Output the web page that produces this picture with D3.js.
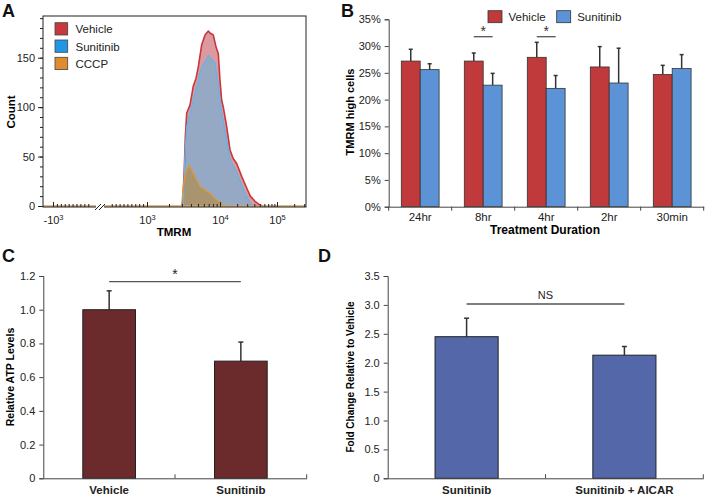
<!DOCTYPE html>
<html><head><meta charset="utf-8">
<script src="https://cdn.jsdelivr.net/npm/d3@7"></script>
<style>body{margin:0;background:#fff;} svg{display:block;font-family:"Liberation Sans",Arial,sans-serif;}</style>
</head><body>
<svg id="c" width="705" height="498"></svg>
<script>
// ---------- Panel A data (TMRM intensity, cell count) ----------
const histSeries = ["Vehicle", "Sunitinib", "CCCP"];
const vehicleHist = [[3080,0],[3250,40],[3350,70],[3500,94],[3880,102],[4300,121],[4690,129],[5050,141],[5610,163],[6240,173],[6920,177],[7290,175],[8090,173],[8810,161],[9480,154],[10000,127],[10700,107],[11430,100],[13120,80],[14960,57],[17000,48],[19600,43],[24000,30],[29500,18],[34000,10],[40700,5],[50000,1],[57000,0]];
const sunitinibHist = [[3140,0],[3300,50],[3500,80],[4300,107],[5050,127],[5400,137],[6240,146],[6920,152],[7300,150],[8090,147],[8600,144],[9480,121],[10710,94],[13120,67],[15160,46],[18300,38],[22400,26],[27500,13],[33600,3],[38400,0]];
const cccpHist = [[2985,0],[3140,20],[3420,35],[3800,41],[4130,36],[4800,26],[5320,20],[6240,16],[7290,13],[8090,9],[9020,6],[10700,2],[13120,0]];
const histXTicks = [-1000, 1000, 10000, 100000];
const histYTicks = [0, 50, 100, 150];

// ---------- Panel B data ----------
const durations = ["24hr", "8hr", "4hr", "2hr", "30min"];
const tmrmSeries = ["Vehicle", "Sunitinib"];
const tmrmVehicle = [0.272, 0.272, 0.279, 0.261, 0.247];
const tmrmVehicleErr = [0.022, 0.015, 0.028, 0.038, 0.017];
const tmrmSunitinib = [0.256, 0.227, 0.221, 0.231, 0.258];
const tmrmSunitinibErr = [0.011, 0.022, 0.024, 0.065, 0.026];
const tmrmSignificant = ["8hr", "4hr"];
const tmrmYTicks = [0, 0.05, 0.10, 0.15, 0.20, 0.25, 0.30, 0.35];

// ---------- Panel C data ----------
const atpGroups = ["Vehicle", "Sunitinib"];
const atpValues = [1.0, 0.695];
const atpErr = [0.112, 0.113];
const atpYTicks = [0, 0.2, 0.4, 0.6, 0.8, 1.0, 1.2];

// ---------- Panel D data ----------
const foldGroups = ["Sunitinib", "Sunitinib + AICAR"];
const foldValues = [2.45, 2.13];
const foldErr = [0.32, 0.15];
const foldYTicks = [0, 0.5, 1.0, 1.5, 2.0, 2.5, 3.0, 3.5];

const svg = d3.select("#c");
const axisCol = "#444";

function panelLabel(t, x, y) {
  svg.append("text").attr("x", x).attr("y", y).attr("font-size", 18).attr("font-weight", "bold").attr("fill", "#111").text(t);
}

// =============== PANEL A ===============
(function () {
  const g = svg.append("g");
  const toU = v => v > 0 ? Math.log10(v) : -Math.log10(-v);
  const L = 43, R = 306, T = 16, B = 207;
  // u-space: -10^3 ... break(0) ... 10^3, 10^4, 10^5
  const xA = d3.scaleLinear().domain([-3, 0, 3, 4, 5]).range([53, 100, 147, 220, 277]);
  const yA = d3.scaleLinear().domain([0, 150]).range([206, 57.7]);

  const area = d3.area().x(d => xA(toU(d[0]))).y0(yA(0)).y1(d => yA(d[1]));
  const line = d3.line().x(d => xA(toU(d[0]))).y(d => yA(d[1]));
  const styles = [
    { data: vehicleHist, fill: "#dc9aa0", stroke: "#c8373d", w: 1.6 },
    { data: sunitinibHist, fill: "#95a9c4", stroke: "#66b3e6", w: 1.3 },
    { data: cccpHist, fill: "#a8956f", stroke: "#e09638", w: 1.3 }
  ];
  styles.forEach(s => {
    g.append("path").datum(s.data).attr("d", area).attr("fill", s.fill);
  });
  styles.forEach(s => {
    g.append("path").datum(s.data).attr("d", line).attr("fill", "none").attr("stroke", s.stroke).attr("stroke-width", s.w).attr("stroke-linejoin", "round");
  });
  // baseline (CCCP outline along zero)
  g.append("line").attr("x1", L).attr("x2", R).attr("y1", yA(0)).attr("y2", yA(0)).attr("stroke", "#d6a258").attr("stroke-width", 1.6);

  // frame
  g.append("rect").attr("x", L).attr("y", T).attr("width", R - L).attr("height", B - T).attr("fill", "none").attr("stroke", "#222").attr("stroke-width", 1);

  // y axis
  const ya = g.append("g").attr("transform", `translate(${L},0)`)
    .call(d3.axisLeft(yA).tickValues(histYTicks).tickSize(5).tickPadding(3));
  ya.select(".domain").remove();
  ya.selectAll("text").attr("font-size", 11).attr("fill", "#222").attr("font-family", null);
  ya.selectAll("line").attr("stroke", "#222");
  const yMinor = g.append("g").attr("transform", `translate(${L},0)`)
    .call(d3.axisLeft(yA).tickValues(d3.range(0, 191, 10)).tickSize(3).tickFormat(""));
  yMinor.select(".domain").remove();
  yMinor.selectAll("line").attr("stroke", "#222");

  // x axis: ticks inside pointing up
  const minorU = [].concat(
    d3.range(-2.75, -0.6, 0.25),
    d3.range(0.75, 2.8, 0.25),
    [3, 4].flatMap(d => d3.range(2, 10).map(k => d + Math.log10(k))),
    [2, 3].map(k => 5 + Math.log10(k))
  );
  const xMinor = g.append("g").attr("transform", `translate(0,${B})`)
    .call(d3.axisBottom(xA).tickValues(minorU).tickSize(-3).tickFormat(""));
  xMinor.select(".domain").remove();
  xMinor.selectAll("line").attr("stroke", "#222");
  const xa = g.append("g").attr("transform", `translate(0,${B})`)
    .call(d3.axisBottom(xA).tickValues(histXTicks.map(toU)).tickSize(-5).tickPadding(9));
  xa.select(".domain").remove();
  xa.selectAll("line").attr("stroke", "#222");
  xa.selectAll(".tick text").attr("font-size", 11).attr("fill", "#222").attr("font-family", null).text(null)
    .each(function (u) {
      const t = d3.select(this);
      t.append("tspan").text(u < 0 ? "-10" : "10");
      t.append("tspan").attr("dy", -4).attr("font-size", 7.5).text(Math.round(Math.abs(u)));
    });

  // axis break
  const bx = xA(0);
  g.append("rect").attr("x", bx - 4).attr("y", B - 3).attr("width", 8).attr("height", 6).attr("fill", "#fff");
  [-2, 2].forEach(o => {
    g.append("line").attr("x1", bx + o - 3).attr("y1", B + 3).attr("x2", bx + o + 3).attr("y2", B - 3).attr("stroke", "#222").attr("stroke-width", 1);
  });

  // labels
  g.append("text").attr("x", 174).attr("y", 235.5).attr("text-anchor", "middle").attr("font-size", 11.5).attr("font-weight", "bold").text("TMRM");
  g.append("text").attr("transform", "translate(15,112) rotate(-90)").attr("text-anchor", "middle").attr("font-size", 11.5).attr("font-weight", "bold").text("Count");

  // legend
  const legCols = ["#c8393e", "#2196e6", "#e08b30"];
  histSeries.forEach((s, i) => {
    const yy = 22.7 + i * 17.3;
    g.append("rect").attr("x", 55).attr("y", yy).attr("width", 12.7).attr("height", 12.3).attr("fill", legCols[i]).attr("stroke", "#444").attr("stroke-width", 0.8);
    g.append("text").attr("x", 75.5).attr("y", yy + 10.5).attr("font-size", 11.5).attr("fill", "#222").text(s);
  });
  panelLabel("A", 2, 17);
})();

// helper for bar-chart axes
function styleAxis(sel, fs) {
  sel.selectAll("line").attr("stroke", axisCol);
  sel.selectAll(".domain").attr("stroke", axisCol);
  sel.selectAll("text").attr("font-size", fs).attr("fill", "#222").attr("font-family", null);
}

// =============== PANEL B ===============
(function () {
  const g = svg.append("g");
  const L = 388.7, R = 703.7;
  const xB = d3.scaleBand().domain(durations).range([L, R]);
  const bw = xB.bandwidth();
  const x1 = d3.scaleBand().domain(tmrmSeries).range([bw * 0.2, bw * 0.8]);
  const yB = d3.scaleLinear().domain([0, 0.35]).range([206.7, 19.3]);
  const cols = { Vehicle: "#c0393b", Sunitinib: "#5b93d6" };
  const rows = durations.map((d, i) => ({
    d, vals: [
      { s: "Vehicle", v: tmrmVehicle[i], e: tmrmVehicleErr[i] },
      { s: "Sunitinib", v: tmrmSunitinib[i], e: tmrmSunitinibErr[i] }
    ]
  }));
  const grp = g.selectAll(".grp").data(rows).enter().append("g").attr("transform", r => `translate(${xB(r.d)},0)`);
  grp.selectAll("line.err").data(r => r.vals).enter().append("line")
    .attr("x1", v => x1(v.s) + x1.bandwidth() / 2).attr("x2", v => x1(v.s) + x1.bandwidth() / 2)
    .attr("y1", v => yB(v.v)).attr("y2", v => yB(v.v + v.e)).attr("stroke", "#333").attr("stroke-width", 1.5);
  grp.selectAll("line.cap").data(r => r.vals).enter().append("line")
    .attr("x1", v => x1(v.s) + x1.bandwidth() / 2 - 2).attr("x2", v => x1(v.s) + x1.bandwidth() / 2 + 2)
    .attr("y1", v => yB(v.v + v.e)).attr("y2", v => yB(v.v + v.e)).attr("stroke", "#333").attr("stroke-width", 1.5);
  grp.selectAll("rect").data(r => r.vals).enter().append("rect")
    .attr("x", v => x1(v.s)).attr("width", x1.bandwidth())
    .attr("y", v => yB(v.v)).attr("height", v => yB(0) - yB(v.v))
    .attr("fill", v => cols[v.s]).attr("stroke", "#333").attr("stroke-width", 0.8);

  // axes
  const ya = g.append("g").attr("transform", `translate(${L},0)`)
    .call(d3.axisLeft(yB).tickValues(tmrmYTicks).tickFormat(d3.format(".0%")).tickSize(4).tickPadding(4));
  styleAxis(ya, 11);
  const xa = g.append("g").attr("transform", `translate(0,${yB(0)})`)
    .call(d3.axisBottom(xB).tickSize(0).tickPadding(6).tickSizeOuter(0));
  styleAxis(xa, 11.5);
  const bounds = durations.map(d => xB(d)).concat([R]);
  g.selectAll("line.bt").data(bounds).enter().append("line")
    .attr("x1", d => d).attr("x2", d => d).attr("y1", yB(0)).attr("y2", yB(0) + 4).attr("stroke", axisCol);

  // significance
  tmrmSignificant.forEach(d => {
    const a = xB(d) + x1("Vehicle") + x1.bandwidth() / 2;
    const b = xB(d) + x1("Sunitinib") + x1.bandwidth() / 2;
    g.append("line").attr("x1", a).attr("x2", b).attr("y1", 36.7).attr("y2", 36.7).attr("stroke", "#555").attr("stroke-width", 1.3);
    g.append("text").attr("x", (a + b) / 2).attr("y", 36).attr("text-anchor", "middle").attr("font-size", 14).attr("fill", "#333").text("*");
  });

  // labels
  g.append("text").attr("x", 545).attr("y", 234).attr("text-anchor", "middle").attr("font-size", 12).attr("font-weight", "bold").text("Treatment Duration");
  g.append("text").attr("transform", "translate(354,112) rotate(-90)").attr("text-anchor", "middle").attr("font-size", 11).attr("font-weight", "bold").text("TMRM high cells");

  // legend
  const lx = [488, 556.7];
  tmrmSeries.forEach((s, i) => {
    g.append("rect").attr("x", lx[i]).attr("y", 10.7).attr("width", 14).attr("height", 12).attr("fill", cols[s]).attr("stroke", "#333").attr("stroke-width", 0.8);
    g.append("text").attr("x", lx[i] + 20.5).attr("y", 20.8).attr("font-size", 11.5).attr("fill", "#222").text(s);
  });
  panelLabel("B", 341, 17);
})();

// =============== PANELS C & D ===============
function simpleBars(opt) {
  const g = svg.append("g");
  const x = d3.scaleBand().domain(opt.groups).range([opt.L, opt.R]);
  const y = d3.scaleLinear().domain([0, opt.ymax]).range([478.3, 276]);
  const bw = x.bandwidth();
  const rows = opt.groups.map((k, i) => ({ k, v: opt.values[i], e: opt.err[i] }));
  const cx = r => x(r.k) + bw / 2;
  g.selectAll("line.err").data(rows).enter().append("line")
    .attr("x1", cx).attr("x2", cx).attr("y1", r => y(r.v)).attr("y2", r => y(r.v + r.e)).attr("stroke", "#333").attr("stroke-width", 1.5);
  g.selectAll("line.cap").data(rows).enter().append("line")
    .attr("x1", r => cx(r) - 2.5).attr("x2", r => cx(r) + 2.5).attr("y1", r => y(r.v + r.e)).attr("y2", r => y(r.v + r.e)).attr("stroke", "#333").attr("stroke-width", 1.5);
  g.selectAll("rect").data(rows).enter().append("rect")
    .attr("x", r => x(r.k) + bw * 0.3).attr("width", bw * 0.4)
    .attr("y", r => y(r.v)).attr("height", r => y(0) - y(r.v))
    .attr("fill", opt.color).attr("stroke", "#222").attr("stroke-width", 1);

  const ya = g.append("g").attr("transform", `translate(${opt.L},0)`)
    .call(d3.axisLeft(y).tickValues(opt.ticks).tickFormat(d => d === 0 ? "0" : d3.format(".1f")(d)).tickSize(4).tickPadding(4));
  styleAxis(ya, 11);
  const xa = g.append("g").attr("transform", `translate(0,${y(0)})`)
    .call(d3.axisBottom(x).tickSize(0).tickPadding(8).tickSizeOuter(0));
  styleAxis(xa, 11.5);
  xa.selectAll("text").attr("font-weight", "bold");
  const bounds = opt.groups.map(k => x(k)).concat([opt.R]).slice(1);
  g.selectAll("line.bt").data(bounds).enter().append("line")
    .attr("x1", d => d).attr("x2", d => d).attr("y1", y(0)).attr("y2", y(0) - 4).attr("stroke", axisCol);

  // significance
  const a = cx(rows[0]), b = cx(rows[1]);
  g.append("line").attr("x1", a).attr("x2", b).attr("y1", opt.sigY).attr("y2", opt.sigY).attr("stroke", "#555").attr("stroke-width", 1.3);
  g.append("text").attr("x", (a + b) / 2).attr("y", opt.sigTextY).attr("text-anchor", "middle").attr("font-size", opt.sigSize).attr("fill", "#222").text(opt.sig);

  g.append("text").attr("transform", `translate(${opt.labX},377) rotate(-90)`).attr("text-anchor", "middle").attr("font-size", opt.labSize).attr("font-weight", "bold").text(opt.label);
}

simpleBars({ groups: atpGroups, values: atpValues, err: atpErr, ticks: atpYTicks, ymax: 1.2, L: 43.3, R: 306.7,
  color: "#6b2a2c", sigY: 281.7, sig: "*", sigTextY: 279, sigSize: 14, labX: 14, labSize: 10.5, label: "Relative ATP Levels" });
simpleBars({ groups: foldGroups, values: foldValues, err: foldErr, ticks: foldYTicks, ymax: 3.5, L: 387.7, R: 703.3,
  color: "#5468a9", sigY: 304, sig: "NS", sigTextY: 299, sigSize: 11, labX: 354, labSize: 10, label: "Fold Change Relative to Vehicle" });

panelLabel("C", 2, 262);
panelLabel("D", 318, 262);
</script>
</body></html>
